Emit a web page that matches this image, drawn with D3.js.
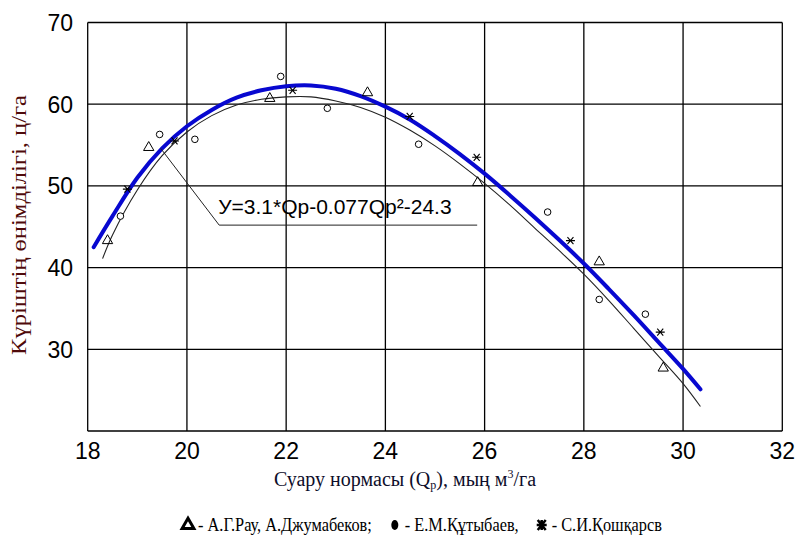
<!DOCTYPE html>
<html><head><meta charset="utf-8">
<script src="https://cdn.jsdelivr.net/npm/d3@7"></script>
<style>body{margin:0;background:#fff}</style>
</head><body><svg id="c" width="801" height="542"></svg>
<script>
// Axis ticks
const xTicks = [18, 20, 22, 24, 26, 28, 30, 32];
const yTicks = [30, 40, 50, 60, 70];
const yGrid = [20, 30, 40, 50, 60, 70];

// Fitted curve (thick blue)
const fitX = [18.12, 18.5, 19.0, 19.5, 20.0, 20.5, 21.0, 21.5, 22.0, 22.5, 23.0, 23.5, 24.0, 24.5, 25.0, 25.5, 26.0, 26.5, 27.0, 27.5, 28.0, 28.5, 29.0, 29.5, 30.0, 30.35];
const fitY = [42.5, 46.3, 51.0, 54.6, 57.3, 59.3, 60.8, 61.7, 62.2, 62.3, 61.9, 61.0, 59.7, 58.1, 56.1, 53.9, 51.5, 48.9, 46.2, 43.4, 40.5, 37.4, 34.2, 30.9, 27.6, 25.1];

// Thin black curve
const lineX = [18.3, 18.5, 19.0, 19.5, 20.0, 20.5, 21.0, 21.5, 22.0, 22.5, 23.0, 23.5, 24.0, 24.5, 25.0, 25.5, 26.0, 26.5, 27.0, 27.5, 28.0, 28.5, 29.0, 29.5, 30.0, 30.35];
const lineY = [41.1, 44.0, 49.5, 53.7, 56.6, 58.6, 59.9, 60.6, 60.9, 60.9, 60.4, 59.6, 58.4, 56.8, 54.9, 52.7, 50.3, 47.7, 44.9, 42.1, 39.2, 36.0, 32.6, 29.2, 25.8, 23.0];

// Observations
const rauX = [18.40, 19.23, 21.67, 23.64, 25.86, 28.31, 29.60];
const rauY = [43.3, 54.7, 60.7, 61.4, 50.4, 40.7, 27.7];
const kutX = [18.66, 19.45, 20.16, 21.89, 22.83, 24.67, 27.27, 28.31, 29.24];
const kutY = [46.3, 56.3, 55.7, 63.4, 59.5, 55.1, 46.8, 36.1, 34.3];
const koshX = [18.80, 19.75, 22.13, 24.49, 25.84, 27.73, 29.54];
const koshY = [49.6, 55.5, 61.7, 58.5, 53.5, 43.3, 32.1];

// Annotation (data space)
const eqText = "У=3.1*Qp-0.077Qp²-24.3";
const eqLeaderX = [19.47, 20.65, 25.85];
const eqLeaderY = [54.6, 45.2, 45.2];
const eqPos = [20.63, 46.55];

const yTitle = "Күріштің өнімділігі, ц/га";
const legendItems = [
  {sym: "triangle", label: "- А.Г.Рау, А.Джумабеков;"},
  {sym: "circle", label: "- Е.М.Құтыбаев,"},
  {sym: "star", label: "- С.И.Қошқарсв"}
];

const svg = d3.select("#c");
const x = d3.scaleLinear().domain([18, 32]).range([87.7, 782.3]);
const y = d3.scaleLinear().domain([20, 70]).range([431, 22.5]);

// grid
const g = svg.append("g");
g.selectAll(".vx").data(xTicks).join("line")
  .attr("x1", d => x(d)).attr("x2", d => x(d))
  .attr("y1", y(20)).attr("y2", y(70))
  .attr("stroke", "#000").attr("stroke-width", 1.3);
g.selectAll(".hy").data(yGrid).join("line")
  .attr("y1", d => y(d)).attr("y2", d => y(d))
  .attr("x1", x(18)).attr("x2", x(32))
  .attr("stroke", "#000").attr("stroke-width", 1.3);

// tick labels
svg.selectAll(".yl").data(yTicks).join("text")
  .attr("x", 73).attr("y", d => y(d) + 8.3)
  .attr("text-anchor", "end")
  .attr("font-family", "Liberation Sans, Arial, sans-serif")
  .attr("font-size", 23).attr("fill", "#000")
  .text(d => d);
svg.selectAll(".xl").data(xTicks).join("text")
  .attr("x", d => x(d)).attr("y", 459)
  .attr("text-anchor", "middle")
  .attr("font-family", "Liberation Sans, Arial, sans-serif")
  .attr("font-size", 23).attr("fill", "#000")
  .text(d => d);

// curves
const line = d3.line().x(d => x(d[0])).y(d => y(d[1])).curve(d3.curveCatmullRom.alpha(0.5));
svg.append("path").datum(lineX.map((v, i) => [v, lineY[i]]))
  .attr("d", line).attr("fill", "none").attr("stroke", "#222").attr("stroke-width", 1.1);
svg.append("path").datum(fitX.map((v, i) => [v, fitY[i]]))
  .attr("d", line).attr("fill", "none").attr("stroke", "#0808d0").attr("stroke-width", 4)
  .attr("stroke-linecap", "round");

// annotation leader
svg.append("path").datum(eqLeaderX.map((v, i) => [v, eqLeaderY[i]]))
  .attr("d", d3.line().x(d => x(d[0])).y(d => y(d[1])))
  .attr("fill", "none").attr("stroke", "#222").attr("stroke-width", 1);
svg.append("text").attr("x", x(eqPos[0])).attr("y", y(eqPos[1]))
  .attr("font-family", "Liberation Sans, Arial, sans-serif").attr("font-size", 21)
  .attr("fill", "#000").text(eqText);

// markers
const tri = d3.symbol().type(d3.symbolTriangle).size(46);
svg.selectAll(".tri").data(rauX.map((v, i) => [v, rauY[i]])).join("path")
  .attr("transform", d => `translate(${x(d[0])},${y(d[1])})`)
  .attr("d", tri).attr("fill", "none").attr("stroke", "#000").attr("stroke-width", 1);
svg.selectAll(".cir").data(kutX.map((v, i) => [v, kutY[i]])).join("circle")
  .attr("cx", d => x(d[0])).attr("cy", d => y(d[1])).attr("r", 3.3)
  .attr("fill", "#fff").attr("stroke", "#000").attr("stroke-width", 1);
const starPath = "M-4.5,0H4.5M-3,-3.5L3,3.5M-3,3.5L3,-3.5";
svg.selectAll(".star").data(koshX.map((v, i) => [v, koshY[i]])).join("path")
  .attr("transform", d => `translate(${x(d[0])},${y(d[1])})`)
  .attr("d", starPath).attr("fill", "none").attr("stroke", "#000").attr("stroke-width", 1.1);

// axis titles
svg.append("text")
  .attr("transform", "translate(26,225) rotate(-90)")
  .attr("text-anchor", "middle")
  .attr("font-family", "Liberation Serif, Times New Roman, serif")
  .attr("font-size", 22).attr("fill", "#4f0a0a")
  .attr("textLength", 260).attr("lengthAdjust", "spacingAndGlyphs")
  .text(yTitle);

const xt = svg.append("text").attr("x", 405).attr("y", 486)
  .attr("text-anchor", "middle")
  .attr("font-family", "Liberation Serif, Times New Roman, serif")
  .attr("font-size", 20).attr("fill", "#0d0d2a");
xt.append("tspan").text("Суару нормасы (Q");
xt.append("tspan").attr("font-size", 12).attr("dy", 3).text("р");
xt.append("tspan").attr("dy", -3).text("), мың м");
xt.append("tspan").attr("font-size", 12).attr("dy", -8).text("3");
xt.append("tspan").attr("dy", 8).text("/га");

// legend
let lx = 183;
const ly = 525;
const sc = 0.86;
legendItems.forEach((it, i) => {
  const sg = svg.append("g").attr("transform", `translate(${lx + 5},${ly})`);
  if (it.sym === "triangle") {
    sg.append("path").attr("d", d3.symbol().type(d3.symbolTriangle).size(60))
      .attr("fill", "#fff").attr("stroke", "#000").attr("stroke-width", 3);
  } else if (it.sym === "circle") {
    sg.append("ellipse").attr("rx", 3.5).attr("ry", 5).attr("fill", "#000");
  } else {
    sg.append("path").attr("d", "M-5,0H5M-4,-5L4,5M-4,5L4,-5M0,-5V5")
      .attr("fill", "none").attr("stroke", "#000").attr("stroke-width", 2.5);
  }
  const t = svg.append("text").attr("x", lx + 15).attr("y", ly + 6)
    .attr("font-family", "Liberation Serif, Times New Roman, serif")
    .attr("font-size", 19).attr("fill", "#000")
    .attr("transform", `translate(${lx + 15},0) scale(${sc},1) translate(${-(lx + 15)},0)`)
    .text(it.label);
  const w = t.node().getComputedTextLength() * sc;
  lx = lx + 15 + w + 18;
});
</script>
</body></html>
